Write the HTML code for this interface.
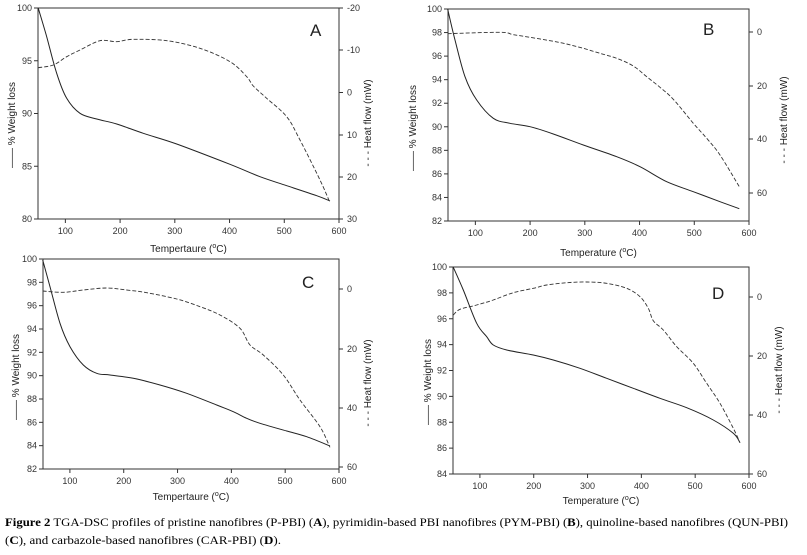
<!DOCTYPE html>
<html><head><meta charset="utf-8"><style>
html,body{margin:0;padding:0;background:#fff;width:807px;height:555px;overflow:hidden}
svg{display:block}
</style></head><body>
<svg id="s" width="807" height="555" xmlns="http://www.w3.org/2000/svg" font-family="Liberation Sans, sans-serif">
<text x="5" y="526" font-family="Liberation Serif, serif" font-size="11.5" textLength="783" lengthAdjust="spacingAndGlyphs"><tspan font-weight="bold">Figure 2</tspan> TGA-DSC profiles of pristine nanofibres (P-PBI) (<tspan font-weight="bold">A</tspan>), pyrimidin-based PBI nanofibres (PYM-PBI) (<tspan font-weight="bold">B</tspan>), quinoline-based nanofibres (QUN-PBI)</text>
<text x="5" y="544" font-family="Liberation Serif, serif" font-size="11.5" textLength="276" lengthAdjust="spacingAndGlyphs">(<tspan font-weight="bold">C</tspan>), and carbazole-based nanofibres (CAR-PBI) (<tspan font-weight="bold">D</tspan>).</text>
</svg>
<script>
var svg=document.getElementById('s');var NS='http://www.w3.org/2000/svg';
function el(t,a,txt){var e=document.createElementNS(NS,t);for(var k in a)e.setAttribute(k,a[k]);if(txt!=null)e.textContent=txt;svg.appendChild(e);return e;}
var P=[
{L:38,R:339,T:8,B:219,ox:0,oy:0,lt:[100,95,90,85,80],rt:[[-20,8],[-10,50],[0,92.5],[10,135],[20,177],[30,219]],letter:'A',lx:310,ly:36,xl:'Tempertaure (',xly:252,llx:12,lly:125,rlx:368,rly:123,
 s:[[115,25],[140,110],[170,220],[200,295],[240,340],[290,357],[350,372],[430,400],[530,432],[690,493],[780,530],[860,557],[950,587],[990,603]],
 d:[[115,203],[160,195],[200,170],[240,150],[300,122],[350,125],[400,118],[500,122],[600,145],[690,185],[740,230],[760,258],[800,295],[860,350],[900,420],[960,540],[990,608]]},
{L:448,R:749,T:9,B:221,ox:400,oy:0,lt:[100,98,96,94,92,90,88,86,84,82],rt:[[0,32],[20,86],[40,139],[60,193]],letter:'B',lx:703,ly:35,xl:'Temperature (',xly:256,llx:413,lly:128,rlx:784,rly:120,
 s:[[143,28],[165,120],[195,230],[230,300],[280,355],[330,370],[390,380],[460,402],[550,435],[650,470],[720,500],[800,545],[880,575],[960,605],[1018,626]],
 d:[[143,101],[300,97],[340,104],[390,112],[450,122],[500,132],[550,145],[600,160],[650,175],[700,198],[740,230],[780,262],[820,298],[880,370],[920,415],[960,465],[1018,560]]},
{L:43,R:339,T:259,B:469,ox:0,oy:250,lt:[100,98,96,94,92,90,88,86,84,82],rt:[[0,289],[20,349],[40,408],[60,467]],letter:'C',lx:302,ly:288,xl:'Tempertaure (',xly:500,llx:16,lly:377,rlx:368,rly:383,
 s:[[128,30],[150,110],[180,220],[210,290],[250,345],[290,370],[330,375],[400,385],[480,405],[560,430],[650,465],[700,485],[740,505],[780,520],[860,543],[920,560],[990,588]],
 d:[[128,123],[190,127],[250,120],[320,114],[380,120],[440,128],[530,147],[600,170],[660,195],[720,235],[750,285],[790,315],[850,375],[900,450],[960,530],[990,592]]},
{L:453,R:749,T:267,B:474,ox:400,oy:250,lt:[100,98,96,94,92,90,88,86,84],rt:[[0,297],[20,356],[40,415],[60,474]],letter:'D',lx:712,ly:299,xl:'Temperature (',xly:504,llx:428,lly:382,rlx:779,rly:370,
 s:[[160,52],[190,120],[230,220],[260,260],[280,285],[320,300],[400,315],[460,330],[540,355],[620,385],[700,415],[780,445],[860,473],[940,510],[1000,550],[1020,578]],
 d:[[160,195],[180,178],[230,165],[280,150],[340,128],[400,115],[440,105],[500,98],[560,96],[620,100],[680,115],[720,140],[745,175],[760,212],[790,240],[830,290],[880,340],[920,400],[960,460],[1000,535],[1020,578]]}
];
P.forEach(function(p){
 var c='#333';
 el('rect',{x:p.L,y:p.T,width:p.R-p.L,height:p.B-p.T,fill:'none',stroke:c,'stroke-width':1});
 var w=p.R-p.L;
 for(var x=100;x<=600;x+=100){var px=p.L+(x-50)*w/550;el('line',{x1:px,y1:p.B,x2:px,y2:p.B+4,stroke:c});el('text',{x:px,y:p.B+15,'font-size':9,fill:'#333','text-anchor':'middle'},x);}
 var n=p.lt.length;
 p.lt.forEach(function(v,i){var py=p.T+i*(p.B-p.T)/(n-1);el('line',{x1:p.L-4,y1:py,x2:p.L,y2:py,stroke:c});el('text',{x:p.L-6,y:py+3,'font-size':9,fill:'#333','text-anchor':'end'},v);});
 p.rt.forEach(function(t){el('line',{x1:p.R,y1:t[1],x2:p.R+4,y2:t[1],stroke:c});el('text',{x:p.R+8,y:t[1]+3,'font-size':9,fill:'#333'},t[0]);});
 el('text',{x:p.lx,y:p.ly,'font-size':17,fill:'#222'},p.letter);
 var t=el('text',{x:(p.L+p.R)/2,y:p.xly,'font-size':10,fill:'#222','text-anchor':'middle'},p.xl);
 var ts=document.createElementNS(NS,'tspan');ts.setAttribute('dy','-4');ts.setAttribute('font-size','7');ts.textContent='o';t.appendChild(ts);
 var ts2=document.createElementNS(NS,'tspan');ts2.setAttribute('dy','4');ts2.textContent='C)';t.appendChild(ts2);
 el('text',{x:0,y:0,'font-size':10,fill:'#222','text-anchor':'middle',transform:'translate('+(p.llx+3)+','+p.lly+') rotate(-90)'},'—— % Weight loss');
 el('text',{x:0,y:0,'font-size':10,fill:'#222','text-anchor':'middle',transform:'translate('+(p.rlx+3)+','+p.rly+') rotate(-90)'},'- - -  Heat flow (mW)');
 function path(a){
  var q=a.map(function(v){return [v[0]/3+p.ox,v[1]/3+p.oy];});
  var d='M'+q[0][0].toFixed(1)+' '+q[0][1].toFixed(1);
  for(var i=0;i<q.length-1;i++){
   var p0=q[i-1]||q[i],p1=q[i],p2=q[i+1],p3=q[i+2]||q[i+1];
   var c1=[p1[0]+(p2[0]-p0[0])/6,p1[1]+(p2[1]-p0[1])/6],c2=[p2[0]-(p3[0]-p1[0])/6,p2[1]-(p3[1]-p1[1])/6];
   d+=' C'+c1[0].toFixed(1)+' '+c1[1].toFixed(1)+' '+c2[0].toFixed(1)+' '+c2[1].toFixed(1)+' '+p2[0].toFixed(1)+' '+p2[1].toFixed(1);
  }
  return d;
 }
 el('path',{d:path(p.s),fill:'none',stroke:'#222','stroke-width':1});
 el('path',{d:path(p.d),fill:'none',stroke:'#333','stroke-width':0.9,'stroke-dasharray':'4 2'});
});
</script>
</body></html>
